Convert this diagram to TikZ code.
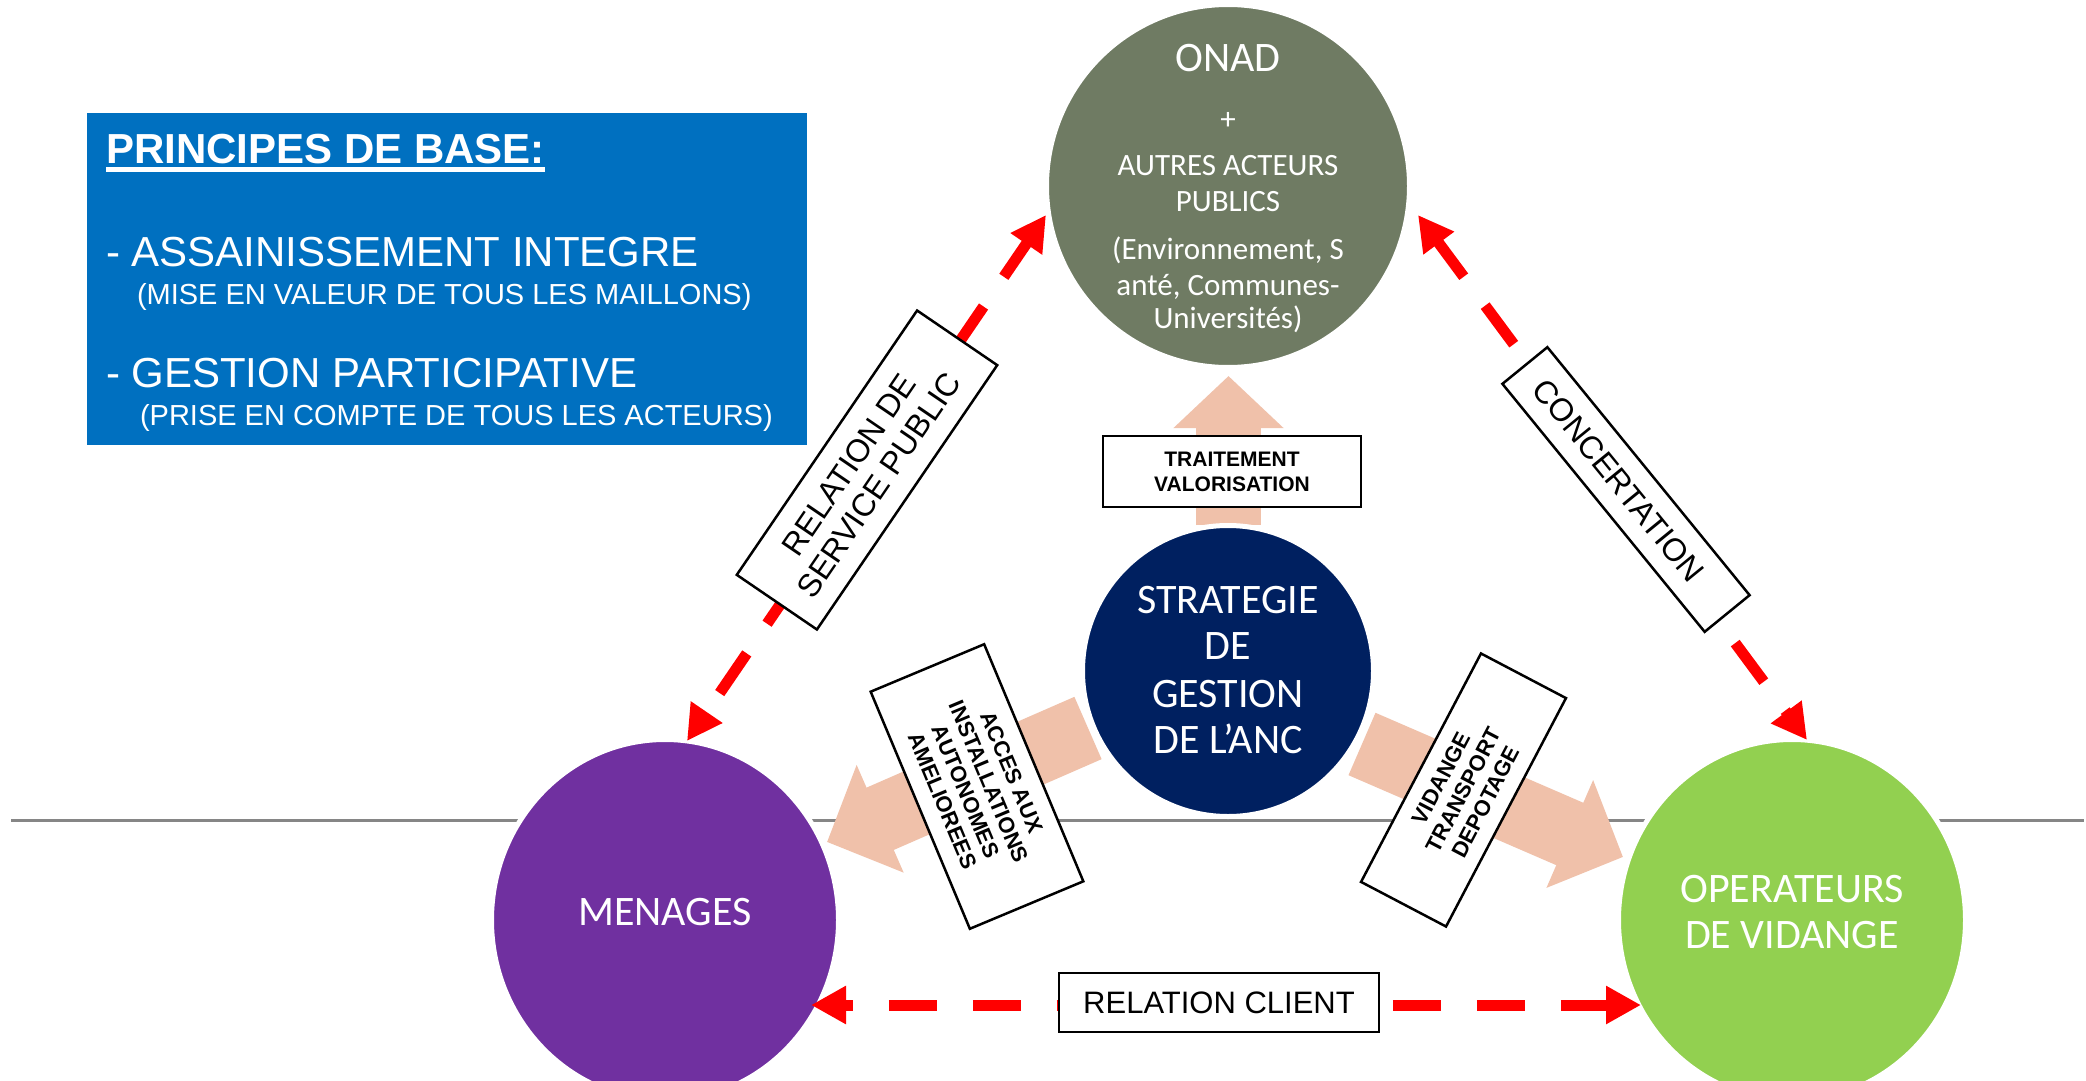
\documentclass[tikz,border=0pt]{standalone}
\usepackage{fontspec}
\setmainfont{Liberation Sans}
\newfontfamily\calib{Carlito}
\usetikzlibrary{arrows.meta,shapes.geometric}
\definecolor{boxblue}{RGB}{0,112,192}
\definecolor{onadc}{RGB}{111,123,99}
\definecolor{navyc}{RGB}{0,32,96}
\definecolor{purp}{RGB}{112,48,160}
\definecolor{grn}{RGB}{146,208,80}
\definecolor{salm}{RGB}{240,193,170}
\definecolor{glc}{RGB}{134,134,134}
\tikzset{
  bl/.style={inner sep=0pt, outer sep=0pt, anchor=base west, text=white},
  ctxt/.style={inner sep=0pt, outer sep=0pt, anchor=base, text=white, font=\calib\fontsize{31}{35}\selectfont},
  bigc/.style={inner sep=0pt, outer sep=0pt, anchor=base, text=white, font=\calib\fontsize{42}{48}\selectfont},
  disc/.style={circle, draw=white, line width=5pt, inner sep=0pt},
  oval/.style={ellipse, draw=white, line width=5pt, inner sep=0pt},
  tbox/.style={draw=black, line width=2.5pt, fill=white, inner sep=0pt, align=center, text=black},
  rdash/.style={draw=red, line width=11pt, dash pattern=on 48pt off 36pt,
    {Triangle[length=35pt,width=36pt]}-{Triangle[length=35pt,width=36pt]}},
}
\begin{document}
\begin{tikzpicture}[x=1pt,y=-1pt]
\useasboundingbox (0,0) rectangle (2086,1081);
\clip (0,0) rectangle (2086,1081);
\fill[white] (0,0) rectangle (2086,1081);

% principles box
\node[fill=boxblue, minimum width=720pt, minimum height=332pt, inner sep=0pt, anchor=north west] (pbox) at (87,113) {};
\node[bl, font=\bfseries\fontsize{42}{50}\selectfont] (ptitle) at (106,163) {PRINCIPES DE BASE:};
\fill[white] ([yshift=-4pt]ptitle.base west) rectangle ([yshift=-9pt]ptitle.base east);
\node[bl, font=\fontsize{42}{50}\selectfont] (p1) at (106,266) {- ASSAINISSEMENT INTEGRE};
\node[bl, font=\fontsize{29}{35}\selectfont] (p1b) at (137,304) {(MISE EN VALEUR DE TOUS LES MAILLONS)};
\node[bl, font=\fontsize{42}{50}\selectfont] (p2) at (106,387) {- GESTION PARTICIPATIVE};
\node[bl, font=\fontsize{29}{35}\selectfont] (p2b) at (140,425) {(PRISE EN COMPTE DE TOUS LES ACTEURS)};

% grey horizontal line (behind everything)
\coordinate (glL) at (11,820); \coordinate (glR) at (2084,820);
\draw[glc, line width=3pt] (glL) -- (glR);

% salmon block arrows
\coordinate (upS) at (1228.5,525); \coordinate (upT) at (1228.5,376);
\coordinate (lfS) at (1088,728);   \coordinate (lfT) at (827,842);
\coordinate (rtS) at (1362,744);   \coordinate (rtT) at (1623,857);
\draw[salm, line width=65pt, -{Triangle[length=52pt,width=107pt]}] (upS) -- (upT);
\draw[salm, line width=68pt, -{Triangle[length=58pt,width=114pt]}] (lfS) -- (lfT);
\draw[salm, line width=68pt, -{Triangle[length=58pt,width=114pt]}] (rtS) -- (rtT);

% circles
\node[disc, fill=onadc, minimum size=363pt] (onad) at (1228,186) {};
\node[disc, fill=navyc, minimum size=291pt] (strat) at (1228,671) {};
\node[oval, fill=purp, minimum width=347pt, minimum height=361pt] (men) at (665,920) {};
\node[oval, fill=grn, minimum width=347pt, minimum height=361pt] (ope) at (1792,920) {};

% circle texts
\node[bigc] (on1) at (1228,71) {ONAD};
\node[ctxt] (on2) at (1228,129) {+};
\node[ctxt] (on3) at (1228,175) {AUTRES ACTEURS};
\node[ctxt] (on4) at (1228,211) {PUBLICS};
\node[ctxt] (on5) at (1228,259) {(Environnement, S};
\node[ctxt] (on6) at (1228,295) {anté, Communes-};
\node[ctxt] (on7) at (1228,328) {Universités)};
\node[bigc] (st1) at (1228,613) {STRATEGIE};
\node[bigc] (st2) at (1228,659) {DE};
\node[bigc] (st3) at (1228,707) {GESTION};
\node[bigc] (st4) at (1228,753) {DE L’ANC};
\node[bigc] (me1) at (665,925) {MENAGES};
\node[bigc] (op1) at (1792,902) {OPERATEURS};
\node[bigc] (op2) at (1792,948) {DE VIDANGE};

% red dashed relations
\coordinate (onL) at (1046,215); \coordinate (menT) at (687,741);
\coordinate (onR) at (1418,215); \coordinate (opeT) at (1807,740);
\coordinate (menR) at (811,1005); \coordinate (opeL) at (1641,1005);
\draw[rdash, dash phase=6pt] (onL) -- (menT);
\draw[rdash, dash phase=4pt] (onR) -- (opeT);
\draw[rdash, dash phase=39pt] (menR) -- (opeL);

% label boxes
\node[tbox, minimum width=320pt, minimum height=97pt, rotate=55.7, font=\fontsize{32}{36}\selectfont] (rsp) at (867,470) {RELATION DE\hspace*{12pt}\\SERVICE PUBLIC\hspace*{12pt}};
\node[tbox, minimum width=320pt, minimum height=58pt, rotate=-50.8, font=\fontsize{32}{36}\selectfont] (conc) at (1626,489.5) {CONCERTATION\hspace*{24pt}};
\node[tbox, minimum width=258pt, minimum height=71pt, font=\bfseries\fontsize{21}{25}\selectfont] (trait) at (1232,471.5) {TRAITEMENT\\VALORISATION};
\node[tbox, minimum width=257pt, minimum height=123pt, rotate=-67.3, font=\bfseries\fontsize{22}{25}\selectfont] (acces) at (977,786.5) {ACCES AUX\\INSTALLATIONS\\AUTONOMES\\AMELIOREES};
\node[tbox, minimum width=258pt, minimum height=96pt, rotate=62.3, font=\bfseries\fontsize{22}{25}\selectfont] (vid) at (1463.5,790) {VIDANGE\\TRANSPORT\\DEPOTAGE};
\node[tbox, minimum width=320pt, minimum height=59pt, font=\fontsize{31}{37}\selectfont] (rcl) at (1219,1002.5) {RELATION CLIENT};
\end{tikzpicture}
\end{document}
